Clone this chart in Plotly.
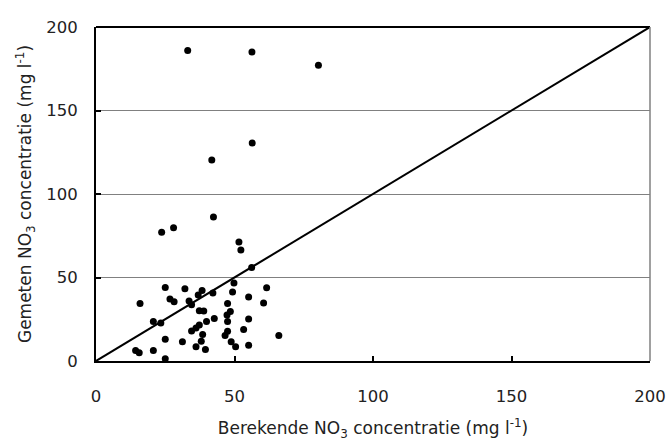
import plotly.graph_objects as go

# Berekende (calculated) vs gemeten (measured) NO3 concentrations, mg/l
berekend = [33.1, 56.3, 80.3, 56.4, 41.8, 42.4, 23.7, 28.0, 51.6, 52.3, 56.2,
            25.0, 32.1, 38.3, 42.2, 36.9, 49.8, 49.3, 61.6, 15.9, 26.7, 28.2,
            33.6, 34.5, 47.5, 55.1, 60.5, 37.3, 38.9, 48.5, 47.3, 20.7, 23.4,
            42.7, 39.9, 47.5, 55.1, 37.3, 36.1, 34.5, 38.5, 47.5, 46.6, 53.3,
            66.0, 25.0, 31.2, 38.0, 48.8, 55.1, 36.1, 39.5, 50.4, 14.3, 15.6,
            20.7, 25.0]
gemeten = [186.0, 185.1, 177.1, 130.5, 120.4, 86.2, 77.1, 79.8, 71.3, 66.5, 56.0,
           44.0, 43.3, 42.2, 40.7, 39.5, 46.7, 41.3, 43.9, 34.5, 37.1, 35.5,
           35.9, 33.7, 34.5, 38.3, 34.7, 30.1, 30.0, 29.7, 27.6, 23.7, 22.8,
           25.5, 23.6, 23.6, 25.2, 21.6, 19.8, 18.0, 15.8, 17.8, 15.2, 18.8,
           15.2, 13.0, 11.6, 11.8, 11.5, 9.4, 8.5, 6.9, 8.5, 6.3, 4.9,
           6.3, 1.3]

lijn_x = [0, 200]
lijn_y = [0, 200]
ticks = [0, 50, 100, 150, 200]

FONT = "DejaVu Sans, sans-serif"
TITLE_FONT = dict(family=FONT, size=17, color="#222")
TICK_FONT = dict(family=FONT, size=16.5, color="#222")

fig = go.Figure()
fig.add_trace(go.Scatter(x=lijn_x, y=lijn_y, mode="lines",
                         line=dict(color="black", width=2), showlegend=False,
                         hoverinfo="skip"))
fig.add_trace(go.Scatter(x=berekend, y=gemeten, mode="markers",
                         marker=dict(color="black", size=7), showlegend=False,
                         cliponaxis=False))

fig.update_layout(
    width=666, height=441,
    margin=dict(l=96, r=16, t=27, b=80),
    paper_bgcolor="white", plot_bgcolor="white",
    font=dict(family=FONT, size=15, color="#222"),
    xaxis=dict(range=[0, 200], tickvals=ticks, showgrid=False, zeroline=False,
               automargin=False, ticklabelstandoff=19, tickfont=TICK_FONT,
               showline=True, linecolor="black", linewidth=2,
               ticks="inside", ticklen=5, tickwidth=2, tickcolor="black",
               title=dict(text="Berekende NO<sub>3</sub> concentratie (mg l<sup>-1</sup>)",
                          font=TITLE_FONT, standoff=18)),
    yaxis=dict(range=[0, 200], tickvals=ticks, showgrid=True, gridcolor="#808080",
               gridwidth=1, zeroline=False, automargin=False, ticklabelstandoff=13,
               tickfont=TICK_FONT,
               showline=True, linecolor="black", linewidth=2,
               ticks="inside", ticklen=5, tickwidth=2, tickcolor="black",
               title=dict(text="Gemeten NO<sub>3</sub> concentratie (mg l<sup>-1</sup>)",
                          font=TITLE_FONT, standoff=10)),
    shapes=[
        dict(type="line", xref="paper", yref="paper", x0=0, x1=1, y0=1, y1=1,
             line=dict(color="black", width=2)),
        dict(type="line", xref="paper", yref="paper", x0=1, x1=1, y0=0, y1=1,
             line=dict(color="#808080", width=1.5)),
    ],
)

fig.write_html("out.html")
